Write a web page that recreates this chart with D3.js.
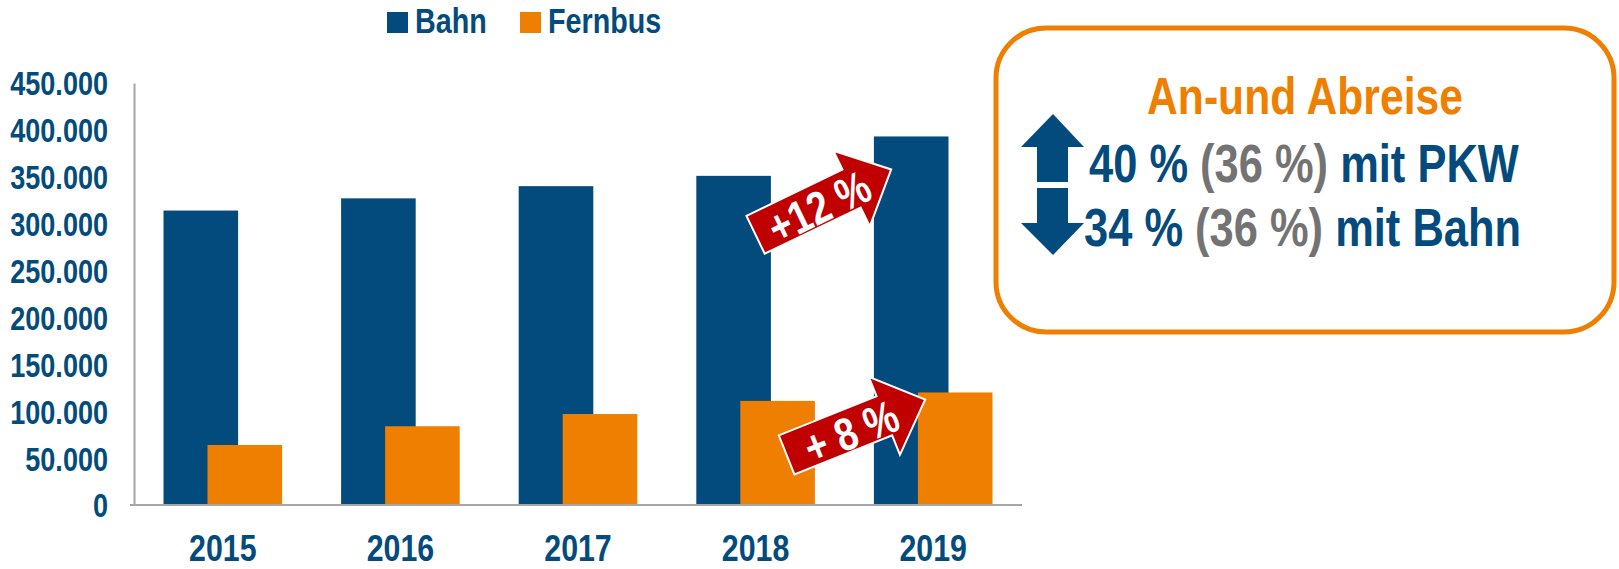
<!DOCTYPE html>
<html lang="de">
<head>
<meta charset="UTF-8">
<title>Bahn / Fernbus</title>
<style>
    html, body { margin: 0; padding: 0; background: #fff; }
    svg { display: block; }
</style>
</head>
<body>
<svg id="chart" width="1619" height="569"></svg>
<script src="https://cdn.jsdelivr.net/npm/d3@7"></script>
<script>
    // data
    const years = ['2015', '2016', '2017', '2018', '2019'];
    const seriesNames = ['Bahn', 'Fernbus'];
    const bahn = [314000, 327000, 340000, 351000, 393000];
    const fernbus = [64000, 84000, 97000, 111000, 120000];
    const yTicks = [0, 50000, 100000, 150000, 200000, 250000, 300000, 350000, 400000, 450000];
    const growthLabels = ['+12 %', '+ 8 %'];
    const boxTitle = 'An-und Abreise';
    const boxNow = ['40 %', '34 %'];
    const boxPrev = ['(36 %)', '(36 %)'];
    const boxWhat = ['mit PKW', 'mit Bahn'];

    const blue = '#034b7d', orange = '#ef7f00', grey = '#737373', red = '#c00000';

    const svg = d3.select('#chart');

    // is a condensed face there? if not squeeze the regular one
    const probe = svg.append('text').attr('font-weight', 'bold').attr('font-size', 40).text('Bahn Fernbus 2015');
    probe.attr('font-family', 'Liberation Sans');
    const wReg = probe.node().getComputedTextLength();
    probe.attr('font-family', '"Liberation Sans Narrow"');
    const wNar = probe.node().getComputedTextLength();
    probe.remove();
    const hasNarrow = wNar / wReg < 0.9;
    const narrowFont = hasNarrow ? '"Liberation Sans Narrow", "Arial Narrow", sans-serif' : '"Liberation Sans", Arial, sans-serif';
    const sx = hasNarrow ? 1 : 0.82;

    const label = (parent, x, y, size, anchor) => parent.append('g')
        .attr('transform', `translate(${x},${y}) scale(${sx},1)`)
        .append('text')
        .attr('font-family', narrowFont)
        .attr('font-weight', 'bold')
        .attr('font-size', size)
        .attr('text-anchor', anchor);

    // scales
    const x = d3.scaleBand().domain(years).range([134, 1022]);
    const xs = d3.scalePoint().domain(seriesNames).range([-22, 22]);
    const barW = x.step() * 0.42;
    const y = d3.scaleLinear().domain([0, 450000]).range([505, 83]);
    const xc = yr => x(yr) + x.bandwidth() / 2;

    const de = d3.formatLocale({decimal: ',', thousands: '.', grouping: [3], currency: ['', ' €']});
    const fmt = de.format(',.0f');

    // bars
    const series = [
        {name: 'Bahn', values: bahn, color: blue},
        {name: 'Fernbus', values: fernbus, color: orange}
    ];

    series.forEach(s => {
        svg.append('g').selectAll('rect')
            .data(years)
            .enter()
            .append('rect')
            .attr('x', (d, i) => xc(d) + xs(s.name) - barW / 2)
            .attr('y', (d, i) => y(s.values[i]))
            .attr('width', barW)
            .attr('height', (d, i) => y(0) - y(s.values[i]))
            .style('fill', s.color);
    });

    // axes
    const yAxis = svg.append('g')
        .attr('transform', `translate(${x.range()[0]},0)`)
        .call(d3.axisLeft(y).tickValues(yTicks).tickFormat(fmt).tickSize(0).tickSizeOuter(0).tickPadding(26));
    yAxis.select('.domain').attr('stroke', '#a6a6a6').attr('stroke-width', 2);
    yAxis.selectAll('text')
        .attr('font-family', narrowFont)
        .attr('font-weight', 'bold')
        .attr('font-size', 33)
        .attr('fill', blue)
        .attr('x', -26 / sx)
        .attr('dy', '0.36em')
        .attr('transform', `scale(${sx},1)`);

    const xAxis = svg.append('g')
        .attr('transform', `translate(0,${y(0)})`)
        .call(d3.axisBottom(x).tickSize(0).tickSizeOuter(0).tickPadding(30));
    xAxis.select('.domain').attr('stroke', '#a6a6a6').attr('stroke-width', 2).attr('d', `M${x.range()[0] - 4},0H${x.range()[1]}`);
    xAxis.selectAll('text')
        .attr('font-family', narrowFont)
        .attr('font-weight', 'bold')
        .attr('font-size', 37)
        .attr('fill', blue)
        .attr('transform', `scale(${sx},1)`);

    // legend
    const legX = [387, 520];
    series.forEach((s, i) => {
        svg.append('rect')
            .attr('x', legX[i]).attr('y', 12)
            .attr('width', 21).attr('height', 21)
            .style('fill', s.color);
        label(svg, legX[i] + 28, 33, 35, 'start').attr('fill', blue).text(s.name);
    });

    // red growth arrows, from 2018 to 2019
    const arrowPath = (L, w, hw, hl) =>
        `M0,${-w / 2}L${L - hl},${-w / 2}L${L - hl},${-hw / 2}L${L},0L${L - hl},${hw / 2}L${L - hl},${w / 2}L0,${w / 2}Z`;

    const growth = [
        {from: [xc('2018'), y(bahn[3]) + 59], to: [xc('2019') - 42, y(bahn[4]) + 33], text: growthLabels[0]},
        {from: [xc('2018') + 31, y(fernbus[3]) + 54], to: [xc('2019') - 8, y(fernbus[4]) + 7], text: growthLabels[1]}
    ];

    growth.forEach(g => {
        const dx = g.to[0] - g.from[0], dy = g.to[1] - g.from[1];
        const L = Math.hypot(dx, dy);
        const ang = Math.atan2(dy, dx) * 180 / Math.PI;
        const grp = svg.append('g').attr('transform', `translate(${g.from[0]},${g.from[1]}) rotate(${ang})`);
        grp.append('path')
            .attr('d', arrowPath(L, 42, 84, 44))
            .style('fill', red)
            .style('stroke', '#fff')
            .style('stroke-width', 2)
            .style('stroke-linejoin', 'miter');
        grp.append('g')
            .attr('transform', `translate(${L * 0.46},2) scale(${sx},1)`)
            .append('text')
            .attr('dy', '0.36em')
            .attr('text-anchor', 'middle')
            .attr('font-family', narrowFont)
            .attr('font-weight', 'bold')
            .attr('font-size', 46)
            .attr('fill', '#fff')
            .text(g.text);
    });

    // info box
    const box = {x: 996, y: 28, w: 618, h: 304};
    svg.append('rect')
        .attr('x', box.x).attr('y', box.y)
        .attr('width', box.w).attr('height', box.h)
        .attr('rx', 50).attr('ry', 50)
        .style('fill', '#fff')
        .style('stroke', orange)
        .style('stroke-width', 5);

    label(svg, box.x + box.w / 2, 114, 52, 'middle').attr('fill', orange).text(boxTitle);

    const lineY = [182, 246];
    const lineX = [1089, 1084];
    boxNow.forEach((d, i) => {
        const t = label(svg, lineX[i], lineY[i], 53, 'start');
        t.append('tspan').attr('fill', blue).text(d + ' ');
        t.append('tspan').attr('fill', grey).text(boxPrev[i]);
        t.append('tspan').attr('fill', blue).text(' ' + boxWhat[i]);
    });

    // up / down block arrows
    svg.append('path')
        .attr('d', 'M1053,114L1084,147L1068,147L1068,182L1037,182L1037,147L1021,147Z')
        .style('fill', blue);
    svg.append('path')
        .attr('d', 'M1037,188L1068,188L1068,223L1084,223L1053,255L1021,223L1037,223Z')
        .style('fill', blue);
</script>
</body>
</html>
